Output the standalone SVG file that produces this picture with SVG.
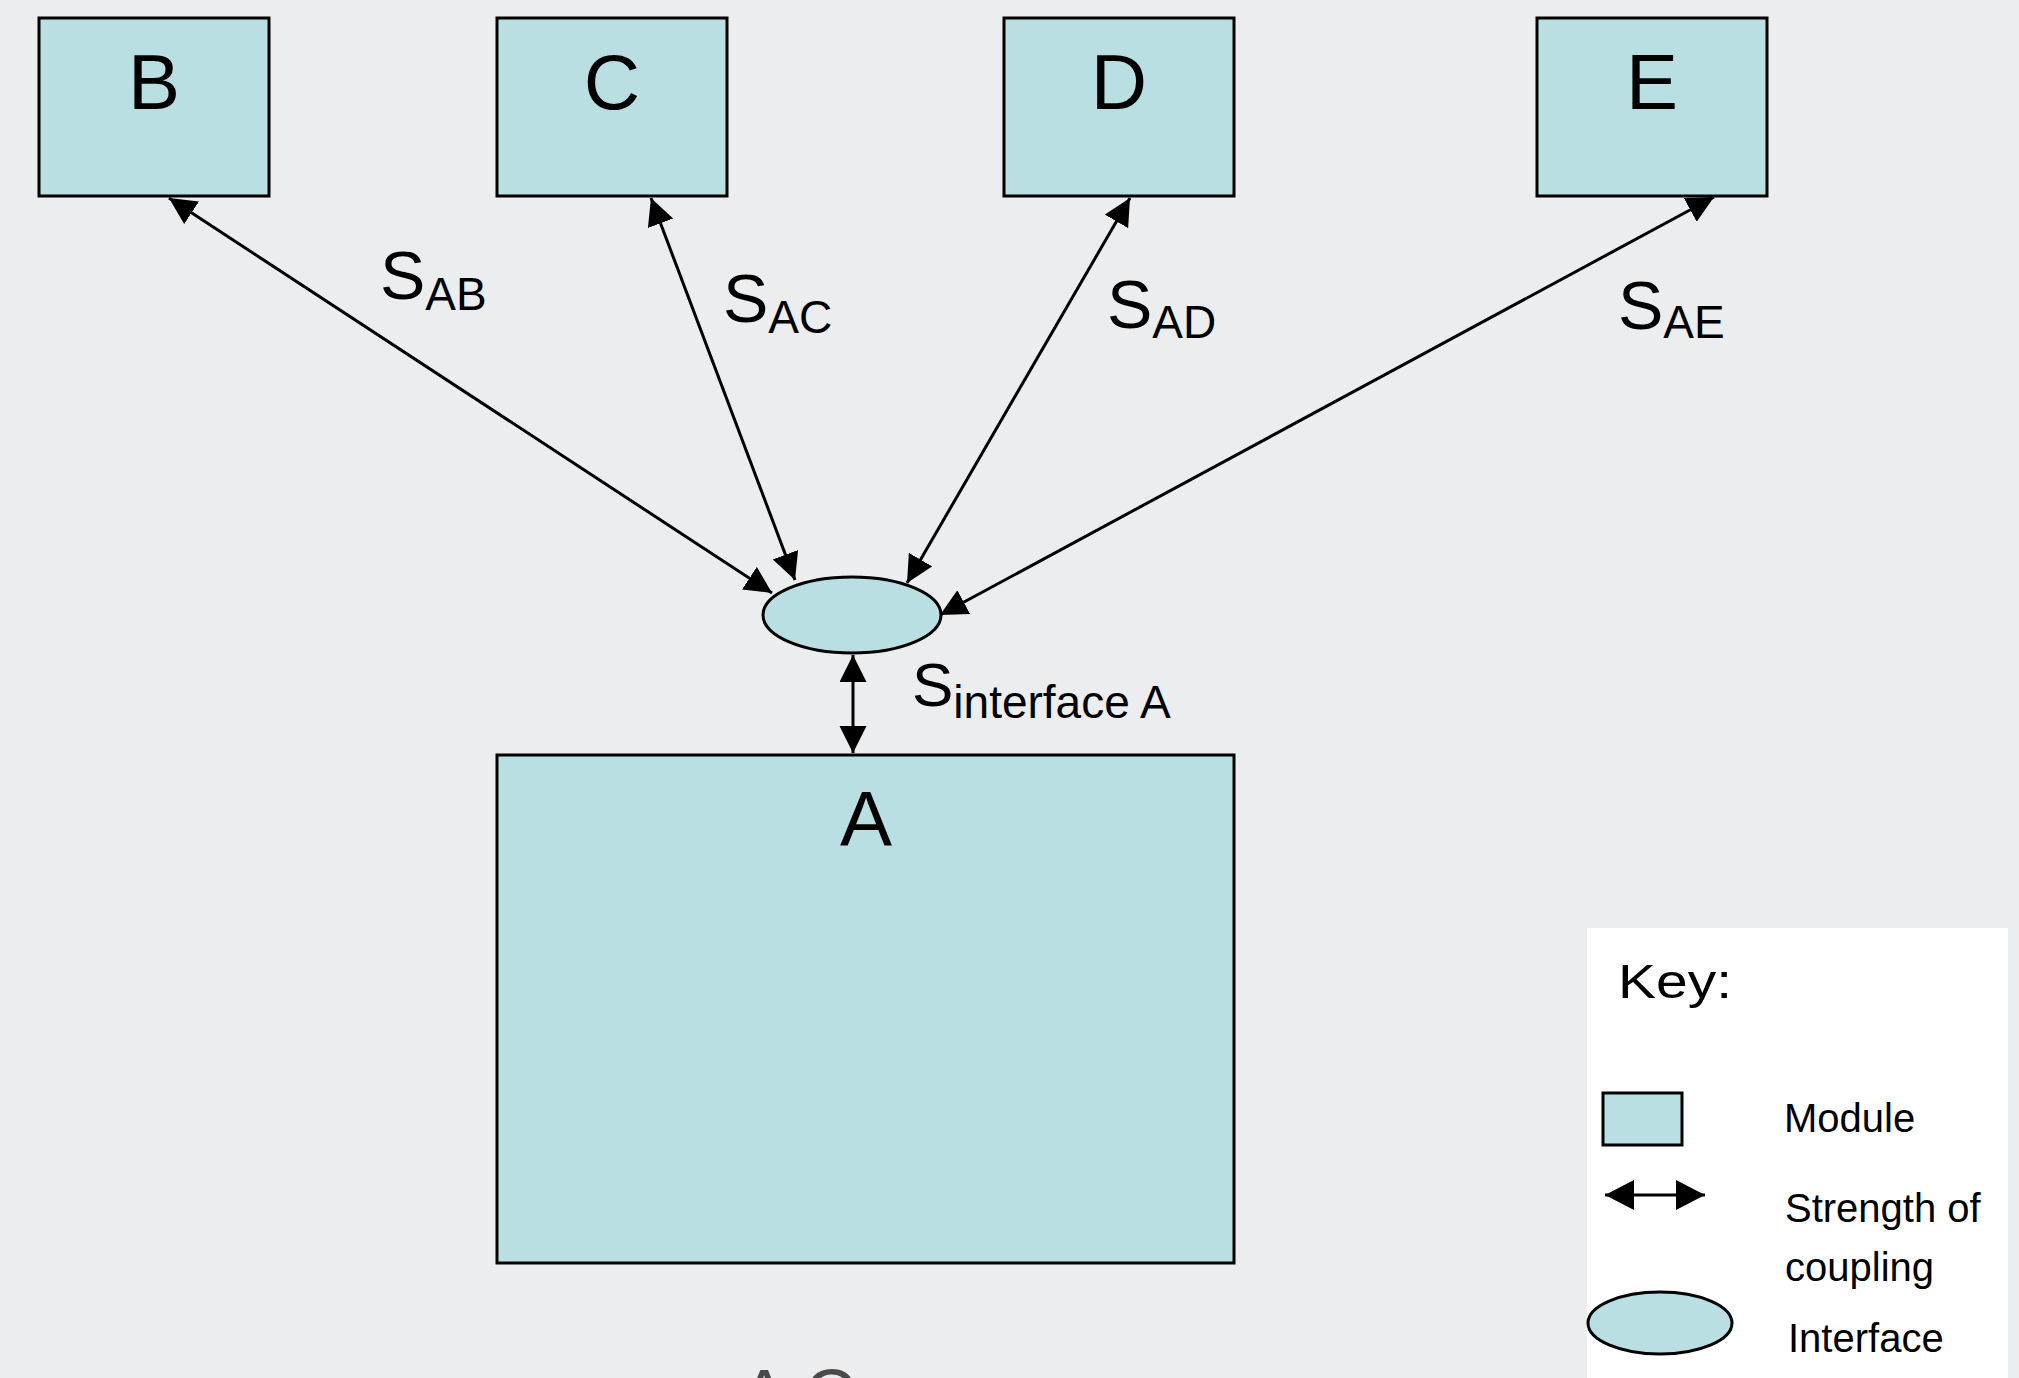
<svg xmlns="http://www.w3.org/2000/svg" width="2019" height="1378" viewBox="0 0 2019 1378">
  <style>
    .box { fill: #b9dfe2; stroke: #000; stroke-width: 3; }
    .lbl { font-family: "Liberation Sans", Arial, sans-serif; fill: #000; }
    .big { font-size: 78px; text-anchor: middle; }
    .conn { stroke: #000; stroke-width: 3; fill: none; marker-start: url(#ah); marker-end: url(#ah); }
    .key { font-family: "Liberation Sans", Arial, sans-serif; font-size: 40px; fill: #000; }
  </style>
  <defs>
    <marker id="ah" markerUnits="userSpaceOnUse" markerWidth="28" markerHeight="28" refX="27" refY="13.5" orient="auto-start-reverse" viewBox="0 0 28 28">
      <path d="M0,0 L27,13.5 L0,27 z" fill="#000"/>
    </marker>
    <marker id="ahk" markerUnits="userSpaceOnUse" markerWidth="30" markerHeight="31" refX="29" refY="15" orient="auto-start-reverse" viewBox="0 0 30 31">
      <path d="M0,0 L29,15 L0,30 z" fill="#000"/>
    </marker>
  </defs>
  <rect x="0" y="0" width="2019" height="1378" fill="#ecedef"/>

  <g id="connectors">
    <line class="conn" x1="169" y1="198" x2="772" y2="593"/>
    <line class="conn" x1="651" y1="198" x2="795" y2="580"/>
    <line class="conn" x1="1130" y1="198" x2="907" y2="583"/>
    <line class="conn" x1="1714" y1="197" x2="940" y2="615"/>
    <line class="conn" x1="853" y1="655" x2="853" y2="753"/>
  </g>

  <g id="node-B">
    <rect class="box" x="39" y="18" width="230" height="178"/>
    <text class="lbl big" x="154" y="109">B</text>
  </g>
  <g id="node-C">
    <rect class="box" x="497" y="18" width="230" height="178"/>
    <text class="lbl big" x="612" y="109">C</text>
  </g>
  <g id="node-D">
    <rect class="box" x="1004" y="18" width="230" height="178"/>
    <text class="lbl big" x="1119" y="109">D</text>
  </g>
  <g id="node-E">
    <rect class="box" x="1537" y="18" width="230" height="178"/>
    <text class="lbl big" x="1652" y="109">E</text>
  </g>
  <g id="node-interface">
    <ellipse class="box" cx="852" cy="615" rx="89" ry="38"/>
  </g>
  <g id="node-A">
    <rect class="box" x="497" y="755" width="737" height="508"/>
    <text class="lbl big" x="866" y="846">A</text>
  </g>

  <g id="labels">
    <text class="lbl" x="380" y="299"><tspan font-size="68">S</tspan><tspan font-size="46" dy="11">AB</tspan></text>
    <text class="lbl" x="723" y="322"><tspan font-size="68">S</tspan><tspan font-size="46" dy="11">AC</tspan></text>
    <text class="lbl" x="1107" y="328"><tspan font-size="68">S</tspan><tspan font-size="46" dy="10">AD</tspan></text>
    <text class="lbl" x="1618" y="329"><tspan font-size="68">S</tspan><tspan font-size="46" dy="9">AE</tspan></text>
    <text class="lbl" x="912" y="706"><tspan font-size="62">S</tspan><tspan font-size="46" dy="12">interface A</tspan></text>
  </g>

  <g id="key">
    <rect x="1587" y="928" width="421" height="450" fill="#ffffff"/>
    <text class="key" x="1618" y="998" style="font-size:48px" textLength="114" lengthAdjust="spacingAndGlyphs">Key:</text>
    <rect class="box" x="1603" y="1093" width="79" height="52"/>
    <text class="key" x="1784" y="1132">Module</text>
    <line x1="1605" y1="1195" x2="1705" y2="1195" stroke="#000" stroke-width="3" marker-start="url(#ahk)" marker-end="url(#ahk)"/>
    <text class="key" x="1785" y="1222">Strength of</text>
    <text class="key" x="1785" y="1281">coupling</text>
    <ellipse class="box" cx="1660" cy="1323" rx="72" ry="31"/>
    <text class="key" x="1788" y="1352">Interface</text>
  </g>

  <text id="title" x="740" y="1420" font-family="Liberation Sans, Arial, sans-serif" font-size="72" fill="#4a4a4a">A C</text>
</svg>
